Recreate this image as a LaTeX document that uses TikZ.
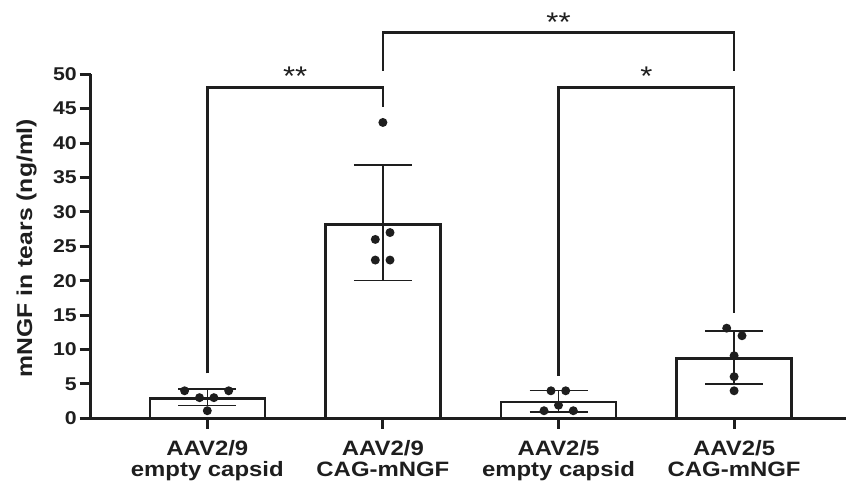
\documentclass[tikz,border=0pt]{standalone}
\usepackage{fontspec}
\setmainfont[FakeStretch=1.15]{Liberation Sans}
\usepackage{xcolor}
\usepackage{tikz}
\usetikzlibrary{positioning}

\definecolor{ink}{HTML}{1E1E1E}

\begin{document}
\begin{tikzpicture}[x=1pt, y=6.88pt, draw=ink, text=ink,
    axisline/.style={line width=3.5pt},
    tickline/.style={line width=3pt},
    barbox/.style={line width=2.6pt, fill=white},
    errline/.style={line width=1.4pt},
    bracket/.style={line width=2.6pt},
    ticklbl/.style={font=\bfseries\fontsize{18.5}{18.5}\selectfont, anchor=east, inner sep=0pt},
    grouplbl/.style={font=\bfseries\fontsize{20.8}{21.3}\selectfont, align=center, anchor=north, inner sep=0pt},
    starlbl/.style={font=\fontsize{27}{27}\selectfont, anchor=base, inner sep=0pt}]
        \useasboundingbox (0,-9.55) rectangle (846,60.8);

        % Axes
        \draw[axisline] (90.5,50) |- (846,0);
        \foreach \v in {0,5,...,50} {
          \draw[tickline] (79.5,\v) -- (90.5,\v);
          \node[ticklbl] (tick\v) at (77,\v) {\v};
        }
        \node[font=\bfseries\fontsize{21.5}{21.5}\selectfont, rotate=90, anchor=base, inner sep=0pt] (ylabel) at (32,24.75) {mNGF in tears (ng/ml)};

        % Bars with mean and SD
        \foreach \c/\m/\lo/\hi in {207.3/2.9/1.83/4.26, 382.9/28.2/20.05/36.8, 558.5/2.37/0.9/4.0, 734.1/8.7/5.0/12.7} {
          \draw[tickline] (\c,0) -- (\c,-1.5);
          \draw[barbox] (\c-57.5,0) rectangle (\c+57.5,\m);
          \draw[errline] (\c,\lo) -- (\c,\hi);
          \draw[errline] (\c-29,\hi) -- (\c+29,\hi);
          \draw[errline] (\c-29,\lo) -- (\c+29,\lo);
        }

        % Single animals
        \foreach \x/\v in {184.6/4.0, 228.7/4.0, 199.5/3.0, 213.9/3.0, 207.3/1.1,
                           382.9/43, 390/27, 375.3/26, 375.3/23, 390/23,
                           551/4.0, 565.7/4.0, 558.5/1.9, 544/1.1, 573.3/1.1,
                           726.7/13.1, 742/12.0, 734.1/9.1, 734.1/6.05, 734.1/4.0} {
          \fill[ink] (\x,\v) circle (4.5pt);
        }

        % Group names
        \node[grouplbl] (g1) at (207.3,-3.2) {AAV2/9\\empty capsid};
        \node[grouplbl] (g2) at (382.9,-3.2) {AAV2/9\\CAG-mNGF};
        \node[grouplbl] (g3) at (558.5,-3.2) {AAV2/5\\empty capsid};
        \node[grouplbl] (g4) at (734.1,-3.2) {AAV2/5\\CAG-mNGF};

        % Significance
        \draw[bracket] (207.3,6.54) |- (382.9,48.1) -- (382.9,45.2);
        \node[starlbl] (s1) at (295.1,48.3) {**};
        \draw[bracket] (382.9,50.5) |- (734.1,56.05) -- (734.1,50.5);
        \node[starlbl] (s2) at (558.5,56.25) {**};
        \draw[bracket] (558.5,6.19) |- (734.1,48.1) -- (734.1,15.26);
        \node[starlbl] (s3) at (646.3,48.3) {*};
      \end{tikzpicture}
\end{document}
